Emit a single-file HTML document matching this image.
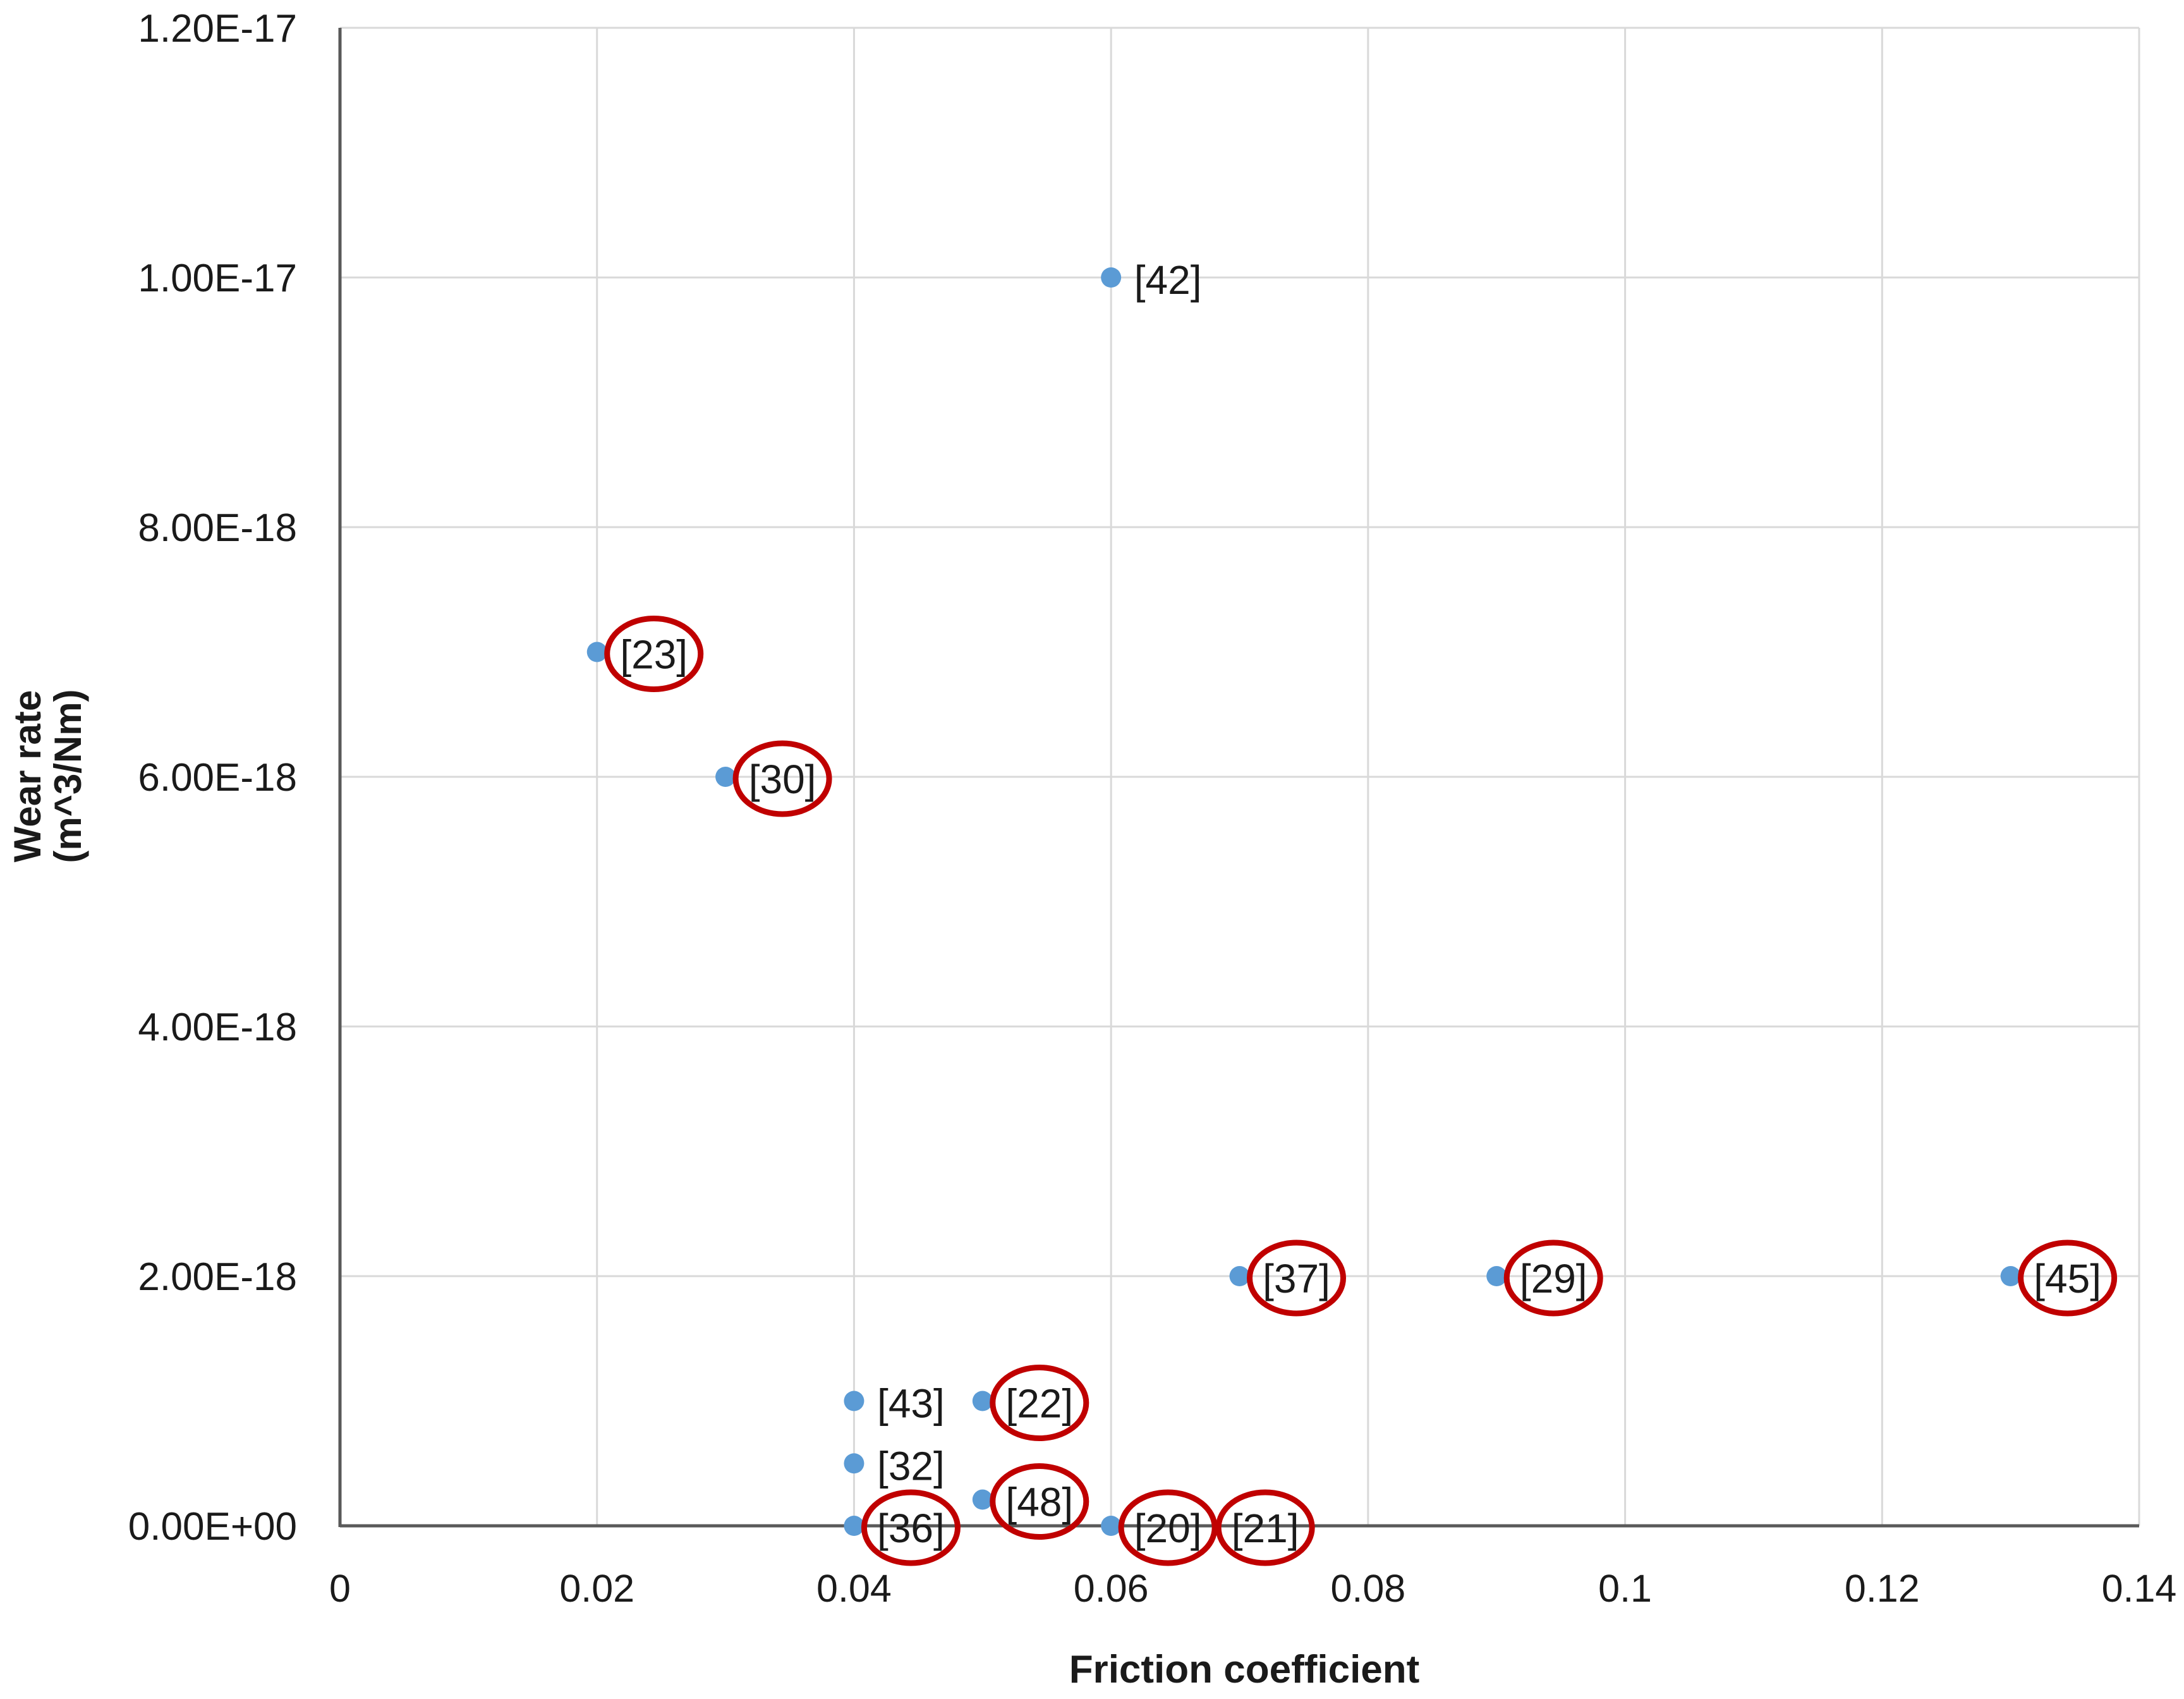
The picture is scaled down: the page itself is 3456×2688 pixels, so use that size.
<!DOCTYPE html>
<html><head><meta charset="utf-8"><style>
html,body{margin:0;padding:0;background:#fff;}
svg{display:block;}
text{font-family:"Liberation Sans",sans-serif;fill:#1a1a1a;}
</style></head><body>
<svg id="chart" width="3456" height="2688" viewBox="0 0 3456 2688">
<g id="grid"></g>
<g id="axes"></g>
<g id="ticks"></g>
<g id="marks"></g>
<text x="1969" y="2662" text-anchor="middle" font-size="62" font-weight="bold">Friction coefficient</text>
<g transform="translate(64,1228) rotate(-90)">
<text x="0" y="0" text-anchor="middle" font-size="60" font-weight="bold">Wear rate</text>
<text x="0" y="64" text-anchor="middle" font-size="60" font-weight="bold">(m^3/Nm)</text>
</g>
</svg>
<script>
const xTicks = [0, 0.02, 0.04, 0.06, 0.08, 0.1, 0.12, 0.14];
const xTickLabels = ["0", "0.02", "0.04", "0.06", "0.08", "0.1", "0.12", "0.14"];
const yTicks = [0, 2, 4, 6, 8, 10, 12];
const yTickLabels = ["0.00E+00", "2.00E-18", "4.00E-18", "6.00E-18", "8.00E-18", "1.00E-17", "1.20E-17"];
const friction = [0.02, 0.03, 0.06, 0.07, 0.09, 0.13, 0.04, 0.05, 0.04, 0.05, 0.04, 0.06];
const wear = [7, 6, 10, 2, 2, 2, 1, 1, 0.5, 0.21, 0, 0]; // units of 1E-18 m^3/Nm
const refs = ["[23]", "[30]", "[42]", "[37]", "[29]", "[45]", "[43]", "[22]", "[32]", "[48]", "[36]", "[20]"];
const circled = [true, true, false, true, true, true, false, true, false, true, true, true];
const extraRefs = ["", "", "", "", "", "", "", "", "", "", "", "[21]"];

const X0 = 538, X1 = 3385, Y0 = 2414, Y1 = 44;
function sx(v){ return X0 + (v - 0) / (0.14 - 0) * (X1 - X0); }
function sy(v){ return Y0 - (v - 0) / (12 - 0) * (Y0 - Y1); }
const NS = "http://www.w3.org/2000/svg";
function mk(tag, attrs, parent){ const e = document.createElementNS(NS, tag); for (const k in attrs) e.setAttribute(k, attrs[k]); parent.appendChild(e); return e; }
const grid = document.getElementById('grid'), axes = document.getElementById('axes'), ticks = document.getElementById('ticks'), marks = document.getElementById('marks');

xTicks.forEach((v, i) => {
  if (i > 0) {
    const l = mk('line', {x1: sx(v), x2: sx(v), y1: Y1, y2: Y0, stroke: '#d9d9d9', 'stroke-width': 3}, grid);
    
    
  }
  const t = mk('text', {x: sx(v), y: 2534, 'text-anchor': 'middle', 'font-size': 61}, ticks);
  t.textContent = xTickLabels[i];
  
  
});
yTicks.forEach((v, i) => {
  if (i > 0) {
    const l = mk('line', {x1: X0, x2: X1, y1: sy(v), y2: sy(v), stroke: '#d9d9d9', 'stroke-width': 3}, grid);
    
    
  }
  const t = mk('text', {x: 470, y: sy(v) + 22, 'text-anchor': 'end', 'font-size': 62}, ticks);
  t.textContent = yTickLabels[i];
  
  
});
const ya = mk('line', {x1: X0, x2: X0, y1: Y1, y2: Y0 + 2, stroke: '#595959', 'stroke-width': 5}, axes);


const xa = mk('line', {x1: X0, x2: X1, y1: Y0, y2: Y0, stroke: '#595959', 'stroke-width': 5}, axes);



function label(txt, cx, cy, ring){
  const t = mk('text', {x: cx, y: cy + 23, 'text-anchor': 'middle', 'font-size': 64}, marks);
  t.textContent = txt;
  
  
  if (ring) {
    const e = mk('ellipse', {cx: cx, cy: cy, rx: 74, ry: 56, fill: 'none', stroke: '#c00000', 'stroke-width': 9}, marks);
    
    
  }
}
friction.forEach((f, i) => {
  const px = sx(f), py = sy(wear[i]);
  const d = mk('circle', {cx: px, cy: py, r: 16, fill: '#5b9bd5'}, marks);
  
  
  label(refs[i], px + 90, py + 3, circled[i]);
  if (extraRefs[i]) label(extraRefs[i], px + 244, py + 3, circled[i]);
});
</script>
</body></html>
